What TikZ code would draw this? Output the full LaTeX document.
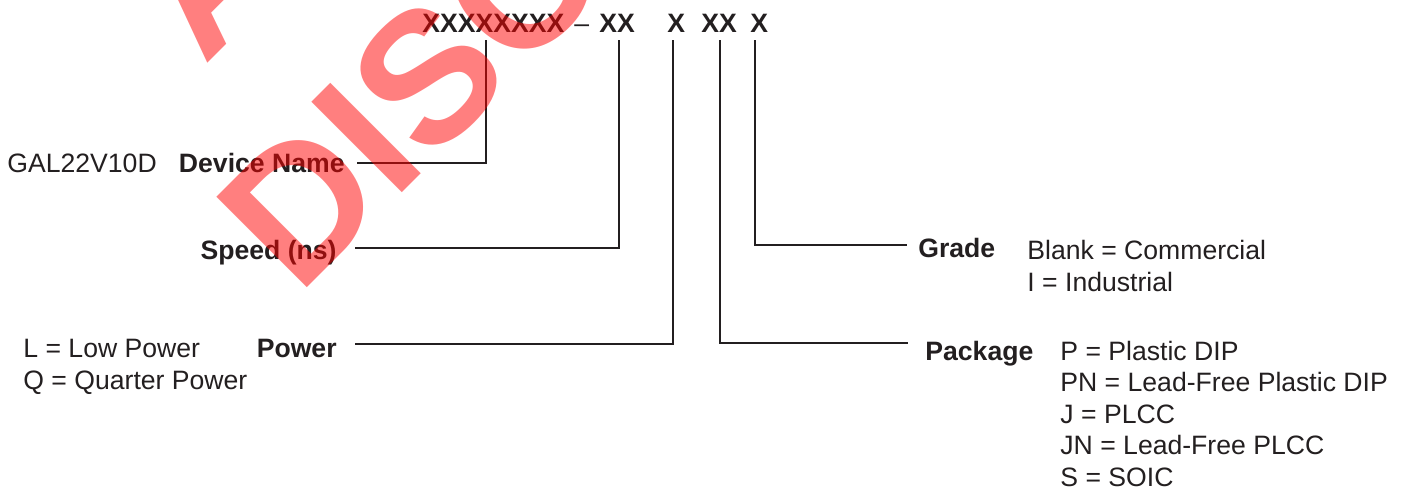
\documentclass[tikz,border=0pt]{standalone}
\usepackage{fontspec}
\setmainfont{Liberation Sans}
\definecolor{ink}{RGB}{35,31,32}

\begin{document}
\begin{tikzpicture}[x=0.5pt, y=-0.5pt,
  every node/.style={inner sep=0pt, text=ink},
  code/.style={font=\fontsize{13.3}{16}\selectfont\bfseries, anchor=base west},
  lbl/.style={font=\fontsize{13.3}{16}\selectfont\bfseries},
  opt/.style={font=\fontsize{13.3}{16}\selectfont, anchor=base west},
  lead/.style={draw=ink, line width=1pt},
  wm/.style={font=\fontsize{93}{110}\selectfont\bfseries, text=red, text opacity=0.5, rotate=45, anchor=base west}]

\useasboundingbox (0,0) rectangle (1407,489);

% Bestellnummer
\node[code] (devx) at (422,32) {XXXXXXXX};
\node[opt]  (dash) at (574,32) {--};
\node[code] (spdx) at (599,32) {XX};
\node[code] (pwrx) at (667,32) {X};
\node[code] (pkgx) at (701,32) {XX};
\node[code] (grdx) at (750,32) {X};

% Zuleitungen
\foreach \n/\xa/\ya/\xb in {dev/486/163/357, spd/619/248/355, pwr/673/344/355, pkg/720/343/908, grd/755/245/907}{
	\coordinate (\n top) at (\xa,40);
	\coordinate (\n end) at (\xb,\ya);
	\draw[lead] (\n top) |- (\n end);
}

% Beschriftungen links
\node[opt] (devval) at (7,172) {GAL22V10D};
\node[lbl, anchor=base east] (devlbl) at (345,172) {Device Name};
\node[lbl, anchor=base east] (spdlbl) at (337,259) {Speed (ns)};
\node[lbl, anchor=base east] (pwrlbl) at (337,357) {Power};
\node[opt] (pwr0) at (23,357) {L = Low Power};
\node[opt] (pwr1) at (23,389) {Q = Quarter Power};

% Beschriftungen rechts
\node[lbl, anchor=base west] (grdlbl) at (918,257) {Grade};
\node[opt] (grd0) at (1027,259) {Blank = Commercial};
\node[opt] (grd1) at (1027,291) {I = Industrial};
\node[lbl, anchor=base west] (pkglbl) at (925,360) {Package};
\foreach \t [count=\i from 0] in {P = Plastic DIP, PN = Lead-Free Plastic DIP, J = PLCC, JN = Lead-Free PLCC, S = SOIC}{
	\node[opt] (pkg\i) at (1060,{360+31.5*\i}) {\t};
}

% Wasserzeichen
\begin{scope}
\clip (0,0) rectangle (1407,489);
\node[wm] (wmtop) at (204,67) {A};
\node[wm] (wmbot) at (298,297) {DISCONTINUED};
\end{scope}
\end{tikzpicture}
\end{document}
